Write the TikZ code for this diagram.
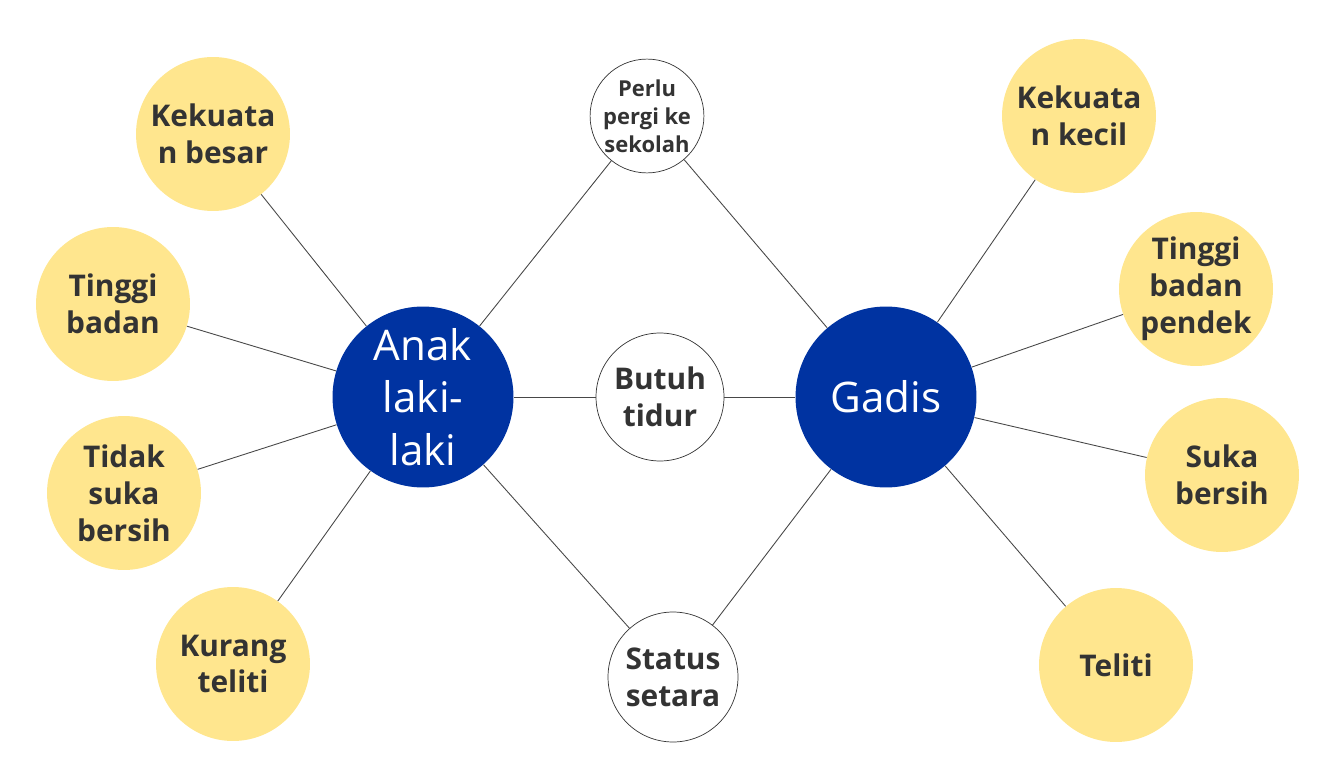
\documentclass[tikz,border=0pt]{standalone}
\usepackage{fontspec}
\setmainfont{Open Sans}
\definecolor{trait}{HTML}{FFE68E}
\definecolor{hub}{HTML}{0033A1}
\definecolor{ink}{HTML}{333333}
\begin{document}
\begin{tikzpicture}[x=0.02cm,y=-0.02cm]
\tikzset{edge/.style = {-, draw=ink!90, line width=0.5pt}}
\tikzset{trait/.style = {shape=circle, fill=trait, text=ink, font=\bfseries\fontsize{17}{21}\selectfont, align=center, inner sep=0pt, minimum size=3.08cm}}
\tikzset{hub/.style = {shape=circle, fill=hub, text=white, font=\fontsize{24}{30}\selectfont, align=center, inner sep=0pt, minimum size=3.62cm}}
\tikzset{share/.style = {shape=circle, draw=ink, fill=white, text=ink, font=\bfseries\fontsize{17}{21}\selectfont, align=center, inner sep=0pt, minimum size=2.56cm}}
\useasboundingbox (0,0) rectangle (1338,780);
\node[hub](boy) at (423,397) {Anak\\laki-\\laki};
\node[hub](girl) at (886,397) {Gadis};
\node[share, minimum size=2.08cm, font=\bfseries\fontsize{12.5}{16}\selectfont](school) at (647,116) {Perlu\\pergi ke\\sekolah};
\node[share](sleep) at (660,397) {Butuh\\tidur};
\node[share, minimum size=2.6cm](equal) at (673,677) {Status\\setara};
\node[trait](b1) at (213,134) {Kekuata\\n besar};
\node[trait](b2) at (113,304) {Tinggi\\badan};
\node[trait](b3) at (124,493) {Tidak\\suka\\bersih};
\node[trait](b4) at (233,664) {Kurang\\teliti};
\node[trait](g1) at (1079,116) {Kekuata\\n kecil};
\node[trait](g2) at (1196,289) {Tinggi\\badan\\pendek};
\node[trait](g3) at (1222,475) {Suka\\bersih};
\node[trait](g4) at (1116,665) {Teliti};
\draw[edge] (boy) to (b1);
\draw[edge] (boy) to (b2);
\draw[edge] (boy) to (b3);
\draw[edge] (boy) to (b4);
\draw[edge] (girl) to (g1);
\draw[edge] (girl) to (g2);
\draw[edge] (girl) to (g3);
\draw[edge] (girl) to (g4);
\draw[edge] (boy) to (school);
\draw[edge] (boy) to (sleep);
\draw[edge] (boy) to (equal);
\draw[edge] (girl) to (school);
\draw[edge] (girl) to (sleep);
\draw[edge] (girl) to (equal);
\end{tikzpicture}
\end{document}
